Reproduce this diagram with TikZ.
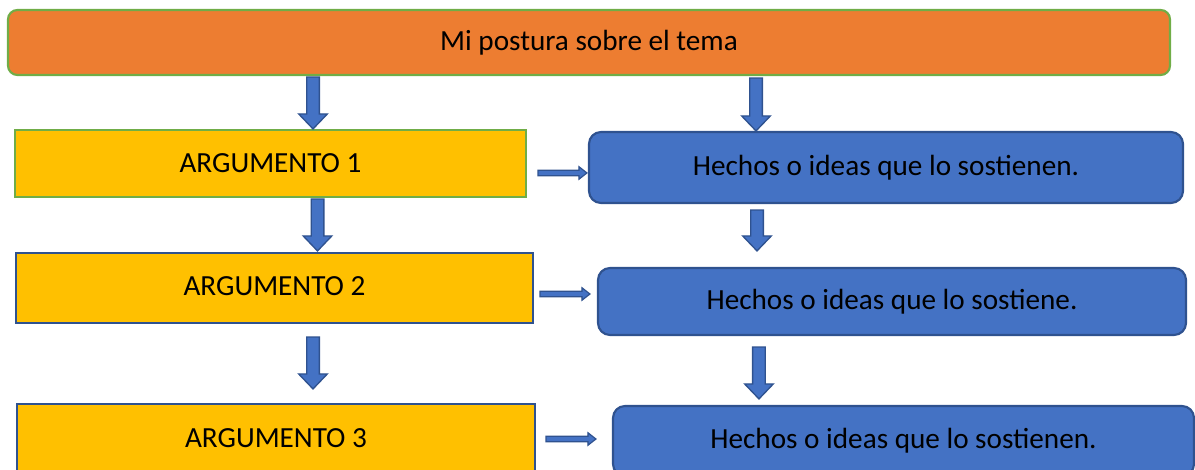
\documentclass[tikz,border=0pt]{standalone}
\usepackage{fontspec}
\setmainfont{Carlito}
\usetikzlibrary{calc}
\definecolor{naranja}{HTML}{ED7D31}
\definecolor{verde}{HTML}{70AD47}
\definecolor{oro}{HTML}{FFC000}
\definecolor{azul}{HTML}{4472C4}
\definecolor{azulosc}{HTML}{2F528F}
\tikzstyle{esquema}=[x=0.75pt, y=-0.75pt, font=\fontsize{21.9}{26}\selectfont]
\tikzstyle{tema}=[rectangle, rounded corners=7pt, draw=verde, fill=naranja, line width=1.6pt, inner sep=0pt]
\tikzstyle{argum}=[rectangle, draw=azulosc, fill=oro, line width=1.6pt, inner sep=0pt]
\tikzstyle{hecho}=[rectangle, rounded corners=9pt, draw=azulosc, fill=azul, line width=1.6pt, inner sep=0pt]
\tikzstyle{baja}=[draw=azulosc, fill=azul, line width=1pt, line join=miter,
	to path={let \p1=(\tikztostart), \p2=(\tikztotarget) in
		(\x2-4.75pt,\y1) -- (\x2+4.75pt,\y1) -- (\x2+4.75pt,\y2+11.25pt) -- (\x2+10.75pt,\y2+11.25pt)
		-- (\x2,\y2) -- (\x2-10.75pt,\y2+11.25pt) -- (\x2-4.75pt,\y2+11.25pt) -- cycle}]
\tikzstyle{pasa}=[draw=azulosc, fill=azul, line width=0.9pt, line join=miter,
	to path={let \p1=(\tikztostart), \p2=(\tikztotarget) in
		(\x1,\y1+2.1pt) -- (\x2-6pt,\y1+2.1pt) -- (\x2-6pt,\y1+4.7pt) -- (\x2,\y1)
		-- (\x2-6pt,\y1-4.7pt) -- (\x2-6pt,\y1-2.1pt) -- (\x1,\y1-2.1pt) -- cycle}]

\begin{document}
\begin{tikzpicture}[esquema]
	\useasboundingbox (0,0) rectangle (1195,470);
	
	\draw (589,42.5) node[tema, minimum width=871.5pt, minimum height=48.75pt] (tema) {Mi postura sobre el tema};
	%%
	\draw (270.5,163.5) node[argum, draw=verde, minimum width=383.25pt, minimum height=50.25pt] (arg1) {ARGUMENTO 1};
	\draw (274.5,288) node[argum, minimum width=387.75pt, minimum height=52.5pt] (arg2) {\raisebox{3pt}{ARGUMENTO 2}};
	\draw (276,439) node[argum, minimum width=388.5pt, minimum height=52.5pt] (arg3) {\raisebox{2pt}{ARGUMENTO 3}};
	%%
	\draw (886,167.5) node[hecho, minimum width=445.5pt, minimum height=53.25pt] (hecho1) {Hechos o ideas que lo sostienen.};
	\draw (892,301.5) node[hecho, minimum width=441pt, minimum height=50.25pt] (hecho2) {Hechos o ideas que lo sostiene.};
	\draw (903.5,441) node[hecho, minimum width=435.75pt, minimum height=52.5pt] (hecho3) {Hechos o ideas que lo sostienen.};
	%%%%%%
	\draw[baja] ([yshift=-0.75pt]tema.south) to ([xshift=31.9pt]arg1.north);
	\draw[baja] ([yshift=-1.5pt]tema.south) to ([xshift=-97.5pt]hecho1.north);
	\draw[baja] ([yshift=-0.75pt]arg1.south) to ([xshift=32.25pt,yshift=0.75pt]arg2.north);
	\draw[baja] ([yshift=-4.5pt]hecho1.south) to ([xshift=-101.25pt,yshift=12pt]hecho2.north);
	\draw[baja] ([yshift=-9.75pt]arg2.south) to ([xshift=27.75pt,yshift=10.5pt]arg3.north);
	\draw[baja] ([yshift=-8.25pt]hecho2.south) to ([xshift=-108.4pt,yshift=4.5pt]hecho3.north);
	%%
	\draw[pasa] ([xshift=8.25pt,yshift=-7.1pt]arg1.east) to ([xshift=-0.75pt]hecho1.west);
	\draw[pasa] ([xshift=4.5pt,yshift=-4.5pt]arg2.east) to ([xshift=-5.25pt]hecho2.west);
	\draw[pasa] ([xshift=7.5pt]arg3.east) to ([xshift=-12pt]hecho3.west);
\end{tikzpicture}
\end{document}
